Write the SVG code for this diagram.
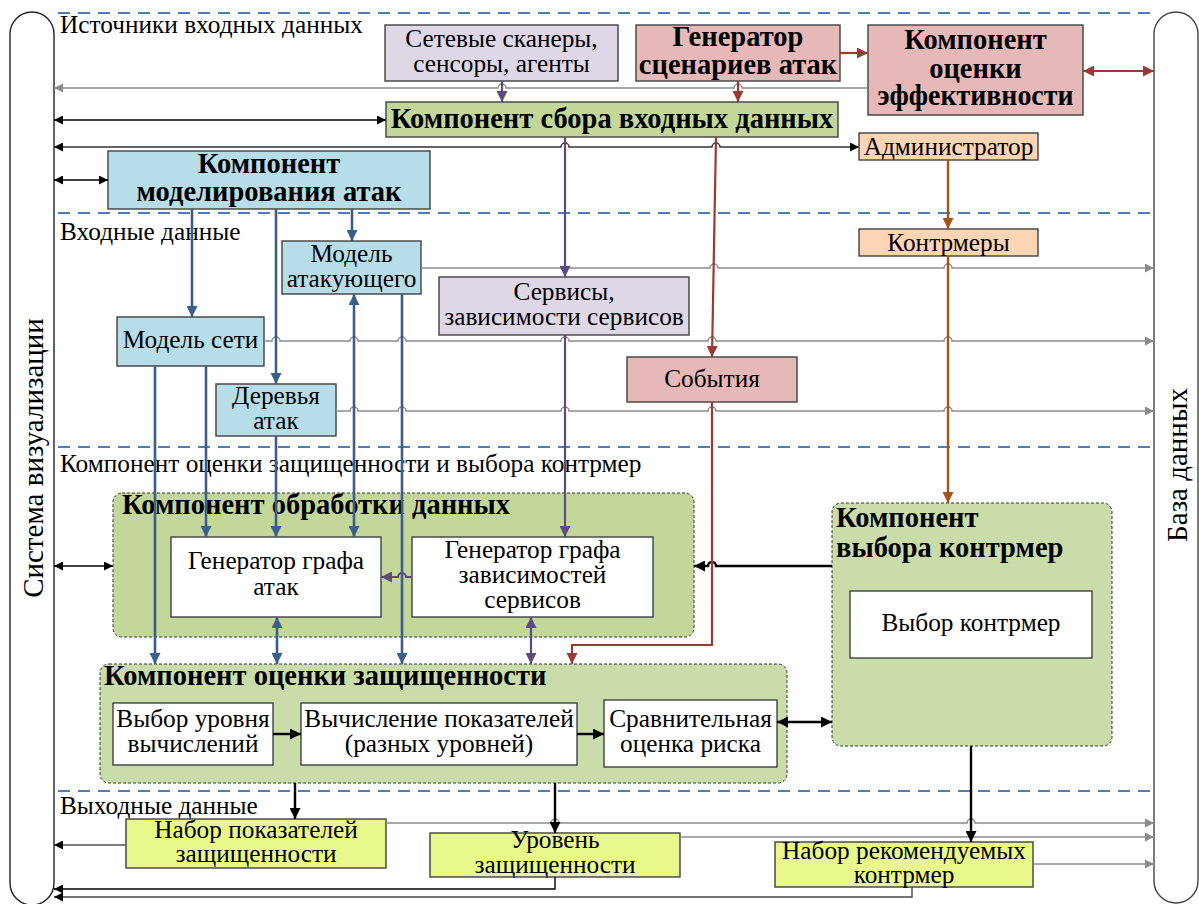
<svg xmlns="http://www.w3.org/2000/svg" width="1199" height="904" viewBox="0 0 1199 904" font-family="'Liberation Serif', 'Times New Roman', serif">
<style>
.t{font-size:25.3px;fill:#000}
.b{font-weight:bold;font-size:28.5px}
.c{text-anchor:middle}
.box{stroke:#404040;stroke-width:1.4}
.cont{stroke:#333;stroke-width:1;stroke-dasharray:3 2}
.dash{stroke:#4f7cb8;stroke-width:2;stroke-dasharray:12 8;fill:none}
.g{stroke:#8c8c8c;stroke-width:1.5;fill:none}
.k{stroke:#000;stroke-width:1.4;fill:none}
.kk{stroke:#000;stroke-width:2.4;fill:none}
.bl{stroke:#3b5f8c;stroke-width:2.6;fill:none}
.pu{stroke:#5e4a7e;stroke-width:2.2;fill:none}
.rd{stroke:#9a3a35;stroke-width:2.2;fill:none}
.br{stroke:#a3541a;stroke-width:2.4;fill:none}
</style>
<defs>
<marker id="mg" viewBox="0 0 10 10" refX="10" refY="5" markerWidth="11" markerHeight="9" markerUnits="userSpaceOnUse" orient="auto-start-reverse"><path d="M0,0L10,5L0,10z" fill="#8c8c8c"/></marker>
<marker id="mk" viewBox="0 0 10 10" refX="10" refY="5" markerWidth="11" markerHeight="9" markerUnits="userSpaceOnUse" orient="auto-start-reverse"><path d="M0,0L10,5L0,10z" fill="#000"/></marker>
<marker id="mkk" viewBox="0 0 10 10" refX="10" refY="5" markerWidth="12" markerHeight="11" markerUnits="userSpaceOnUse" orient="auto-start-reverse"><path d="M0,0L10,5L0,10z" fill="#000"/></marker>
<marker id="mb" viewBox="0 0 10 10" refX="10" refY="5" markerWidth="12" markerHeight="11" markerUnits="userSpaceOnUse" orient="auto-start-reverse"><path d="M0,0L10,5L0,10z" fill="#3b5f8c"/></marker>
<marker id="mp" viewBox="0 0 10 10" refX="10" refY="5" markerWidth="12" markerHeight="11" markerUnits="userSpaceOnUse" orient="auto-start-reverse"><path d="M0,0L10,5L0,10z" fill="#5e4a7e"/></marker>
<marker id="mr" viewBox="0 0 10 10" refX="10" refY="5" markerWidth="12" markerHeight="11" markerUnits="userSpaceOnUse" orient="auto-start-reverse"><path d="M0,0L10,5L0,10z" fill="#9a3a35"/></marker>
<marker id="mo" viewBox="0 0 10 10" refX="10" refY="5" markerWidth="12" markerHeight="11" markerUnits="userSpaceOnUse" orient="auto-start-reverse"><path d="M0,0L10,5L0,10z" fill="#a3541a"/></marker>
</defs>
<rect width="1199" height="904" fill="#fff"/>

<g id="vis">
<rect x="10" y="12" width="44" height="893" rx="22" fill="#fff" stroke="#222" stroke-width="1.4"/>
<text class="t" transform="translate(43,458) rotate(-90)" text-anchor="middle" style="font-size:29px">Система визуализации</text>
</g>
<g id="db">
<rect x="1154" y="12" width="44" height="891" rx="22" fill="#fff" stroke="#444" stroke-width="1.4"/>
<text class="t" transform="translate(1187,465) rotate(-90)" text-anchor="middle" style="font-size:29px">База данных</text>
</g>

<g id="separators">
<path class="dash" d="M58 13H1150M58 213H1150M58 447H1150M58 791H1150"/>
<text class="t" x="60" y="33">Источники входных данных</text>
<text class="t" x="60" y="240">Входные данные</text>
<text class="t" x="60" y="472">Компонент оценки защищенности и выбора контрмер</text>
<text class="t" x="60" y="814">Выходные данные</text>
</g>

<g id="scanners"><rect class="box" x="385" y="25" width="233" height="56" fill="#ddd7e6"/>
<text class="t c" x="501.5" y="47">Сетевые сканеры,</text><text class="t c" x="501.5" y="72">сенсоры, агенты</text></g>
<g id="scengen"><rect class="box" x="636" y="25" width="204" height="56" fill="#e6b8b7"/>
<text class="t b c" x="738" y="46">Генератор</text><text class="t b c" x="738" y="74">сценариев атак</text></g>
<g id="effect"><rect class="box" x="868" y="25" width="215" height="90" fill="#e6b8b7"/>
<text class="t b c" x="975.5" y="49">Компонент</text><text class="t b c" x="975.5" y="78">оценки</text><text class="t b c" x="975.5" y="105" textLength="196" lengthAdjust="spacingAndGlyphs">эффективности</text></g>
<g id="collect"><rect class="box" x="386" y="102" width="452" height="35" fill="#c4d79b"/>
<text class="t b c" x="612" y="128">Компонент сбора входных данных</text></g>
<g id="admin"><rect class="box" x="859" y="133" width="179" height="27" fill="#fcd5b4"/>
<text class="t c" x="948.5" y="155">Администратор</text></g>
<g id="modeling"><rect class="box" x="108" y="151" width="322" height="58" fill="#b7dde8"/>
<text class="t b c" x="269" y="173">Компонент</text><text class="t b c" x="269" y="201">моделирования атак</text></g>
<g id="attacker"><rect class="box" x="282" y="241" width="139" height="53" fill="#b7dde8"/>
<text class="t c" x="351.5" y="262">Модель</text><text class="t c" x="351.5" y="287">атакующего</text></g>
<g id="netmodel"><rect class="box" x="117" y="317" width="147" height="49" fill="#b7dde8"/>
<text class="t c" x="190.5" y="348">Модель сети</text></g>
<g id="trees"><rect class="box" x="216" y="384" width="120" height="52" fill="#b7dde8"/>
<text class="t c" x="276" y="404">Деревья</text><text class="t c" x="276" y="429">атак</text></g>
<g id="services"><rect class="box" x="439" y="277" width="250" height="58" fill="#ddd7e6"/>
<text class="t c" x="564" y="300">Сервисы,</text><text class="t c" x="564" y="325">зависимости сервисов</text></g>
<g id="events"><rect class="box" x="627" y="357" width="170" height="45" fill="#e6b8b7"/>
<text class="t c" x="712" y="387">События</text></g>
<g id="counter"><rect class="box" x="859" y="229" width="179" height="27" fill="#fcd5b4"/>
<text class="t c" x="948.5" y="251">Контрмеры</text></g>

<g id="processing"><rect class="cont" x="113" y="493" width="581" height="144" rx="9" fill="#c4d79b"/>
<text class="t b" x="122" y="514">Компонент обработки данных</text></g>
<g id="agg"><rect class="box" x="171" y="537" width="210" height="80" fill="#fff"/>
<text class="t c" x="276" y="569">Генератор графа</text><text class="t c" x="276" y="595">атак</text></g>
<g id="sdg"><rect class="box" x="412" y="537" width="241" height="80" fill="#fff"/>
<text class="t c" x="532.5" y="558">Генератор графа</text><text class="t c" x="532.5" y="583">зависимостей</text><text class="t c" x="532.5" y="608">сервисов</text></g>

<g id="security"><rect class="cont" x="100" y="664" width="687" height="119" rx="9" fill="#cbdcab"/>
<text class="t b" x="104" y="685">Компонент оценки защищенности</text></g>
<g id="level"><rect class="box" x="113" y="703" width="160" height="62" fill="#fff"/>
<text class="t c" x="193" y="727">Выбор уровня</text><text class="t c" x="193" y="752">вычислений</text></g>
<g id="calc"><rect class="box" x="301" y="703" width="276" height="62" fill="#fff"/>
<text class="t c" x="439" y="727">Вычисление показателей</text><text class="t c" x="439" y="752">(разных уровней)</text></g>
<g id="risk"><rect class="box" x="604" y="700" width="173" height="67" fill="#fff"/>
<text class="t c" x="690.5" y="727">Сравнительная</text><text class="t c" x="690.5" y="752">оценка риска</text></g>

<g id="selection"><rect class="cont" x="832" y="503" width="280" height="243" rx="9" fill="#cbdcab"/>
<text class="t b" x="836" y="527">Компонент</text><text class="t b" x="836" y="557">выбора контрмер</text></g>
<g id="choose"><rect class="box" x="850" y="591" width="242" height="67" fill="#fff"/>
<text class="t c" x="971" y="631">Выбор контрмер</text></g>

<g id="metrics"><rect class="box" x="126" y="819" width="260" height="49" fill="#e8f88a"/>
<text class="t c" x="256" y="838">Набор показателей</text><text class="t c" x="256" y="862">защищенности</text></g>
<g id="seclevel"><rect class="box" x="430" y="833" width="250" height="44" fill="#e8f88a"/>
<text class="t c" x="555" y="848">Уровень</text><text class="t c" x="555" y="873">защищенности</text></g>
<g id="recommended"><rect class="box" x="775" y="842" width="258" height="45" fill="#e8f88a"/>
<text class="t c" x="904" y="859">Набор рекомендуемых</text><text class="t c" x="904" y="883">контрмер</text></g>

<g id="connectors">
<path class="g" marker-start="url(#mg)" d="M54 88H498A4 4 0 0 1 506 88H734A4 4 0 0 1 742 88H868"/>
<path class="g" marker-end="url(#mg)" d="M421 268H710A4 4 0 0 1 718 268H944A4 4 0 0 1 952 268H1154"/>
<path class="g" marker-end="url(#mg)" d="M264 341H272A4 4 0 0 1 280 341H350A4 4 0 0 1 358 341H398A4 4 0 0 1 406 341H561A4 4 0 0 1 569 341H708A4 4 0 0 1 716 341H944A4 4 0 0 1 952 341H1154"/>
<path class="g" marker-end="url(#mg)" d="M336 411H350A4 4 0 0 1 358 411H398A4 4 0 0 1 406 411H561A4 4 0 0 1 569 411H708A4 4 0 0 1 716 411H944A4 4 0 0 1 952 411H1154"/>
<path class="g" marker-end="url(#mg)" d="M386 823H551A4 4 0 0 1 559 823H967A4 4 0 0 1 975 823H1154"/>
<path class="g" marker-end="url(#mg)" d="M680 837H1154"/>
<path class="g" marker-end="url(#mg)" d="M1033 864H1154"/>
<path class="k" style="stroke:#555" marker-end="url(#mk)" d="M126 845H54"/>
<path class="k" marker-end="url(#mk)" d="M555 877V889H54"/>
<path class="k" style="stroke:#444" marker-end="url(#mk)" d="M912 887V897H54"/>
<path class="k" marker-start="url(#mk)" marker-end="url(#mk)" d="M54 120H386"/>
<path class="k" style="stroke:#333" marker-start="url(#mk)" marker-end="url(#mk)" d="M54 147H561A4 4 0 0 1 569 147H712A4 4 0 0 1 720 147H859"/>
<path class="k" marker-start="url(#mk)" marker-end="url(#mk)" d="M54 180H108"/>
<path class="k" marker-start="url(#mk)" marker-end="url(#mk)" d="M54 566H113"/>
<path class="kk" marker-end="url(#mkk)" d="M832 566H716A4 4 0 0 0 708 566H694"/>
<path class="kk" marker-start="url(#mkk)" marker-end="url(#mkk)" d="M777 722H832"/>
<path class="kk" marker-end="url(#mkk)" d="M273 734H301"/>
<path class="kk" marker-end="url(#mkk)" d="M577 734H604"/>
<path class="kk" marker-end="url(#mkk)" d="M295 783V819"/>
<path class="kk" marker-end="url(#mkk)" d="M555 783V833"/>
<path class="kk" marker-end="url(#mkk)" d="M971 746V842"/>
<path class="bl" marker-end="url(#mb)" d="M192 209V317"/>
<path class="bl" marker-end="url(#mb)" d="M276 209V384"/>
<path class="bl" marker-end="url(#mb)" d="M352 209V241"/>
<path class="bl" marker-end="url(#mb)" d="M155 366V664"/>
<path class="bl" marker-end="url(#mb)" d="M206 366V537"/>
<path class="bl" marker-end="url(#mb)" d="M276 436V537"/>
<path class="bl" marker-start="url(#mb)" marker-end="url(#mb)" d="M354 294V537"/>
<path class="bl" marker-end="url(#mb)" d="M402 294V664"/>
<path class="bl" marker-start="url(#mb)" marker-end="url(#mb)" d="M277 617V664"/>
<path class="pu" marker-end="url(#mp)" d="M502 81V102"/>
<path class="pu" marker-end="url(#mp)" d="M565 137V277"/>
<path class="pu" marker-end="url(#mp)" d="M565 335V537"/>
<path class="pu" marker-end="url(#mp)" d="M412 577H406A4 4 0 0 0 398 577H381"/>
<path class="pu" marker-start="url(#mp)" marker-end="url(#mp)" d="M531 617V664"/>
<path class="rd" marker-end="url(#mr)" d="M738 81V102"/>
<path class="rd" marker-end="url(#mr)" d="M840 53H868"/>
<path class="rd" marker-start="url(#mr)" marker-end="url(#mr)" d="M1083 71H1154"/>
<path class="rd" marker-end="url(#mr)" d="M716 137L712 357"/>
<path class="rd" marker-end="url(#mr)" d="M712 402V645H572V664"/>
<path class="br" marker-end="url(#mo)" d="M948 160V229"/>
<path class="br" marker-end="url(#mo)" d="M948 256V503"/>
</g>
</svg>
